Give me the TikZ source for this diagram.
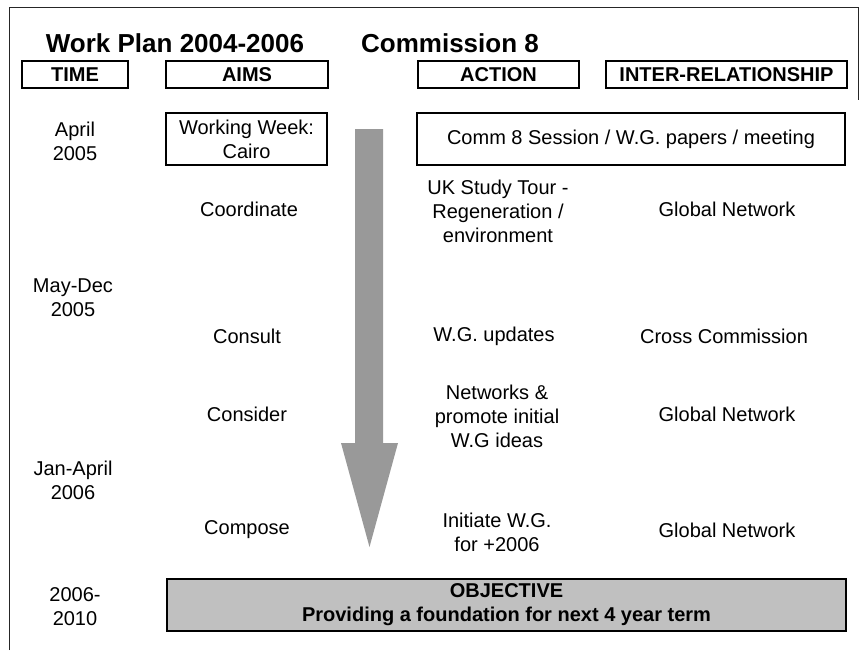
\documentclass[tikz,border=0pt]{standalone}
\usepackage{fontspec}
\setmainfont{Liberation Sans}
\definecolor{arrowgray}{RGB}{153,153,153}
\definecolor{objgray}{RGB}{192,192,192}
\begin{document}
\begin{tikzpicture}[x=0.75pt,y=-0.75pt,
  txt/.style={font=\fontsize{15}{18}\selectfont, align=center, inner sep=0pt},
  ttl/.style={font=\fontsize{19.5}{23}\selectfont\bfseries, inner sep=0pt},
  hdr/.style={draw, line width=1.5pt, font=\fontsize{15}{18}\selectfont\bfseries, inner sep=0pt, minimum height=20.25pt},
  wbox/.style={draw, line width=1.5pt, font=\fontsize{15}{18}\selectfont, align=center, inner sep=0pt, minimum height=39pt},
  objbox/.style={draw, line width=1.9pt, fill=objgray, font=\fontsize{15}{18}\selectfont\bfseries, align=center, inner sep=0pt, minimum height=39pt}]
\useasboundingbox (0,0) rectangle (863,650);
% frame
\draw[line width=0.75pt, black!85] (9,650) -- (9,7) -- (858,7) -- (858,100);
% titles
\node[ttl] (title1) at (175,43) {Work Plan 2004-2006};
\node[ttl] (title2) at (450,43) {Commission 8};
% headers
\node[hdr, minimum width=79.5pt] (hTime) at (75,74.5) {TIME};
\node[hdr, minimum width=121.5pt] (hAims) at (247,74.5) {AIMS};
\node[hdr, minimum width=120.75pt] (hAction) at (498.5,74.5) {ACTION};
\node[hdr, minimum width=180.75pt] (hInter) at (726.5,74.5) {INTER-RELATIONSHIP};
% arrow
\fill[arrowgray] (355,129) -- (383,129) -- (383,443) -- (398,443) -- (369.5,547) -- (341,443) -- (355,443) -- cycle;
% row 1
\node[txt] (tApr) at (75,141) {April\\2005};
\node[wbox, minimum width=120.75pt] (ww) at (246.5,139) {Working Week:\\Cairo};
\node[wbox, minimum width=321pt] (comm) at (631,139) {Comm 8 Session / W.G. papers / meeting};
% row coordinate
\node[txt] (aCoord) at (249,209) {Coordinate};
\node[txt] (acUK) at (498,211) {UK Study Tour -\\Regeneration /\\environment};
\node[txt] (iGlob1) at (727,209) {Global Network};
% time May-Dec
\node[txt] (tMay) at (73,298) {May-Dec\\2005};
% row consult
\node[txt] (aConsult) at (247,336) {Consult};
\node[txt] (acWG) at (494,336) {W.G. updates};
\node[txt] (iCross) at (724,336) {Cross Commission};
% row consider
\node[txt] (aConsider) at (247,414) {Consider};
\node[txt] (acNet) at (497,416) {Networks \&\\promote initial\\W.G ideas};
\node[txt] (iGlob2) at (727,414) {Global Network};
% time Jan-April
\node[txt] (tJan) at (73,480) {Jan-April\\2006};
% row compose
\node[txt] (aCompose) at (247,530) {Compose};
\node[txt] (acInit) at (497,532) {Initiate W.G.\\for +2006};
\node[txt] (iGlob3) at (727,530) {Global Network};
% objective
\node[txt] (t2006) at (75,607) {2006-\\2010};
\node[objbox, minimum width=509.25pt] (obj) at (506.5,605) {OBJECTIVE\\Providing a foundation for next 4 year term};
\end{tikzpicture}
\end{document}
